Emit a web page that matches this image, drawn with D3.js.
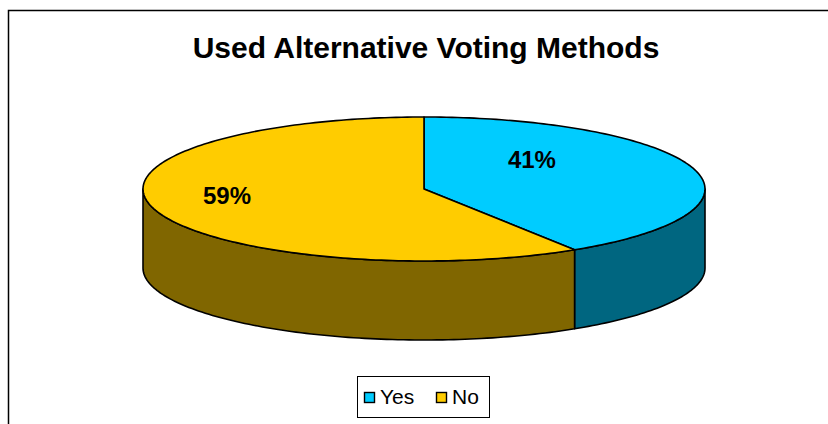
<!DOCTYPE html>
<html>
<head>
<meta charset="utf-8">
<script src="https://cdn.jsdelivr.net/npm/d3@7"></script>
<style>
  body { margin: 0; background: #fff; }
  text { font-family: Arial, "Liberation Sans", sans-serif; }
</style>
</head>
<body>
<div id="root"></div>
<script>
const WIDTH = 828;
const HEIGHT = 424;

// chart data
const TITLE = "Used Alternative Voting Methods";
const categories = ["Yes", "No"];
const values = [41, 59];
const topColors = ["#00CCFF", "#FFCC00"];
const sideColors = ["#006680", "#806600"];

// pie geometry
const CX = 424;
const CY = 189;
const RX = 281;
const RY = 72;
const DEPTH = 79;
// Excel puts the labels at different depths inside each slice
const LABEL_FRAC = [0.4, 0.73];
const LABEL_LIFT = [21, 8];

const total = d3.sum(values);
const topColor = d3.scaleOrdinal().domain(categories).range(topColors);
const sideColor = d3.scaleOrdinal().domain(categories).range(sideColors);

const svg = d3.select("#root")
    .append("svg")
    .attr("width", WIDTH)
    .attr("height", HEIGHT);

// chart area border (right and bottom fall outside the window)
svg.append("rect")
    .attr("x", 8.5)
    .attr("y", 10.5)
    .attr("width", 840)
    .attr("height", 440)
    .attr("fill", "#fff")
    .attr("stroke", "#000")
    .attr("stroke-width", 1.5);

svg.append("text")
    .attr("x", 426)
    .attr("y", 58)
    .attr("text-anchor", "middle")
    .attr("font-size", 30)
    .attr("font-weight", "bold")
    .text(TITLE);

const pie = d3.pie().sort(null).value(d => d.value);
const arcs = pie(categories.map((c, i) => ({name: c, value: values[i]})));

// point on the ellipse, angle clockwise from 12 o'clock
function pt(a, dy = 0) {
    return [CX + RX * Math.sin(a), CY - RY * Math.cos(a) + dy];
}

function arcPoints(a0, a1, dy = 0) {
    const n = Math.max(2, Math.ceil(Math.abs(a1 - a0) / 0.02));
    return d3.range(n + 1).map(i => pt(a0 + (a1 - a0) * i / n, dy));
}

const line = d3.line();

// outer walls: only the front half (PI/2 .. 3PI/2) can be seen
const walls = svg.append("g").attr("class", "walls");
arcs.forEach(d => {
    const a0 = Math.max(d.startAngle, Math.PI / 2);
    const a1 = Math.min(d.endAngle, 3 * Math.PI / 2);
    if (a1 <= a0) return;
    const top = arcPoints(a0, a1);
    const bottom = arcPoints(a1, a0, DEPTH);
    walls.append("path")
        .attr("d", line(top.concat(bottom)) + "Z")
        .attr("fill", sideColor(d.data.name))
        .attr("stroke", "#000")
        .attr("stroke-width", 1.6)
        .attr("stroke-linejoin", "round");
});

// top faces
const tops = svg.append("g").attr("class", "tops");
arcs.forEach(d => {
    const pts = [[CX, CY]].concat(arcPoints(d.startAngle, d.endAngle));
    tops.append("path")
        .attr("d", line(pts) + "Z")
        .attr("fill", topColor(d.data.name))
        .attr("stroke", "#000")
        .attr("stroke-width", 1.6)
        .attr("stroke-linejoin", "round");
});

// percentage labels
svg.append("g")
    .selectAll("text")
    .data(arcs)
    .join("text")
    .attr("x", (d, i) => CX + RX * LABEL_FRAC[i] * Math.sin((d.startAngle + d.endAngle) / 2))
    .attr("y", (d, i) => CY - RY * LABEL_FRAC[i] * Math.cos((d.startAngle + d.endAngle) / 2) - LABEL_LIFT[i])
    .attr("text-anchor", "middle")
    .attr("dominant-baseline", "central")
    .attr("font-size", 24)
    .attr("font-weight", "bold")
    .text(d => Math.round(d.data.value / total * 100) + "%");

// legend
const legend = svg.append("g").attr("transform", "translate(357,376)");
legend.append("rect")
    .attr("x", 0.5)
    .attr("y", 0.5)
    .attr("width", 132)
    .attr("height", 41)
    .attr("fill", "#fff")
    .attr("stroke", "#000")
    .attr("stroke-width", 1);

const legendX = d3.scalePoint().domain(categories).range([7, 79]);
const item = legend.selectAll(".item")
    .data(categories)
    .join("g")
    .attr("class", "item")
    .attr("transform", d => `translate(${legendX(d)},0)`);

item.append("rect")
    .attr("x", 0.5)
    .attr("y", 16.5)
    .attr("width", 10)
    .attr("height", 10)
    .attr("fill", d => topColor(d))
    .attr("stroke", "#000")
    .attr("stroke-width", 1.4);

item.append("text")
    .attr("x", 16)
    .attr("y", 28)
    .attr("font-size", 21)
    .text(d => d);
</script>
</body>
</html>
